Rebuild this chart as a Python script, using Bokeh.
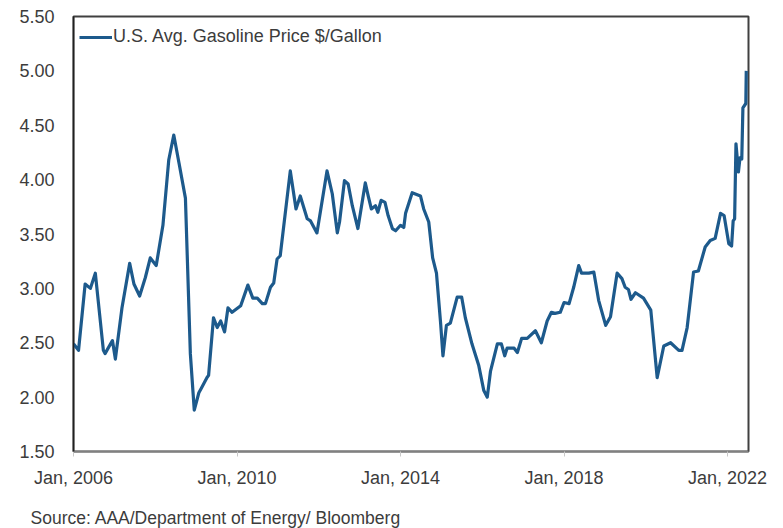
import pandas as pd
from bokeh.plotting import figure
from bokeh.models import (Range1d, FixedTicker, DatetimeTickFormatter, Legend, LegendItem,
                          Title, NumeralTickFormatter, ColumnDataSource)
from bokeh.embed import file_html
from bokeh.resources import INLINE

# ---------------- data ----------------
dates = [
    "2006-01-01", "2006-02-15", "2006-04-15", "2006-06-01", "2006-07-15", "2006-09-25", "2006-10-10",
    "2006-12-15", "2007-01-10", "2007-03-10", "2007-05-18", "2007-06-25", "2007-08-15", "2007-10-05",
    "2007-11-18", "2008-01-10", "2008-03-10", "2008-05-01", "2008-06-15", "2008-08-01", "2008-09-27",
    "2008-11-10", "2008-12-15", "2009-01-25", "2009-02-15", "2009-04-08", "2009-04-22", "2009-06-05",
    "2009-07-08", "2009-08-08", "2009-09-12", "2009-10-12", "2009-11-18", "2010-02-03", "2010-04-08",
    "2010-05-22", "2010-07-01", "2010-08-15", "2010-09-12", "2010-10-27", "2010-11-25", "2010-12-25",
    "2011-01-22", "2011-04-22", "2011-06-12", "2011-07-20", "2011-09-20", "2011-10-20", "2011-12-16",
    "2012-03-15", "2012-05-01", "2012-06-15", "2012-07-05", "2012-08-18", "2012-09-20", "2012-10-27",
    "2012-12-16", "2013-02-20", "2013-03-18", "2013-04-15", "2013-05-22", "2013-06-12", "2013-07-12",
    "2013-08-15", "2013-09-12", "2013-10-20", "2013-11-18", "2014-01-01", "2014-01-30", "2014-02-15",
    "2014-04-15", "2014-06-28", "2014-07-27", "2014-09-10", "2014-10-15", "2014-11-18", "2014-12-25",
    "2015-01-15", "2015-02-15", "2015-03-22", "2015-05-22", "2015-07-01", "2015-08-03", "2015-10-01",
    "2015-12-01", "2016-01-15", "2016-02-15", "2016-03-15", "2016-05-15", "2016-06-20", "2016-07-20",
    "2016-08-10", "2016-10-12", "2016-11-10", "2016-12-18", "2017-02-06", "2017-04-20", "2017-06-12",
    "2017-08-03", "2017-09-10", "2017-10-12", "2017-11-28", "2018-01-01", "2018-02-15", "2018-03-28",
    "2018-05-12", "2018-06-06", "2018-08-10", "2018-09-24", "2018-11-06", "2019-01-08", "2019-02-20",
    "2019-04-20", "2019-06-02", "2019-07-01", "2019-07-30", "2019-08-22", "2019-10-01", "2019-12-12",
    "2020-02-15", "2020-04-12", "2020-06-10", "2020-08-10", "2020-10-22", "2020-11-20", "2021-01-05",
    "2021-03-03", "2021-04-15", "2021-06-15", "2021-07-30", "2021-09-12", "2021-10-30", "2021-12-01",
    "2022-01-12", "2022-02-06", "2022-02-20", "2022-03-05", "2022-03-17", "2022-04-08", "2022-04-22",
    "2022-05-08", "2022-05-18", "2022-06-13", "2022-06-17",
]
prices = [
    2.49, 2.43, 3.04, 3.00, 3.14, 2.43, 2.40,
    2.52, 2.35, 2.82, 3.23, 3.04, 2.93, 3.10,
    3.28, 3.21, 3.58, 4.18, 4.41, 4.15, 3.83,
    2.40, 1.88, 2.04, 2.08, 2.18, 2.20, 2.73,
    2.64, 2.70, 2.60, 2.82, 2.78, 2.84, 3.03,
    2.91, 2.91, 2.86, 2.86, 3.01, 3.05, 3.27,
    3.30, 4.08, 3.73, 3.85, 3.64, 3.62, 3.51,
    4.08, 3.87, 3.51, 3.61, 3.99, 3.96, 3.76,
    3.55, 3.97, 3.85, 3.73, 3.76, 3.70, 3.81,
    3.79, 3.67, 3.55, 3.53, 3.58, 3.56, 3.69,
    3.88, 3.85, 3.73, 3.61, 3.28, 3.14, 2.68,
    2.38, 2.66, 2.68, 2.92, 2.92, 2.73, 2.49,
    2.29, 2.06, 2.00, 2.24, 2.49, 2.49, 2.38,
    2.45, 2.45, 2.41, 2.54, 2.54, 2.61, 2.50,
    2.70, 2.78, 2.77, 2.78, 2.87, 2.86, 3.01,
    3.21, 3.14, 3.14, 3.15, 2.89, 2.66, 2.74,
    3.14, 3.09, 3.01, 2.99, 2.90, 2.96, 2.91,
    2.80, 2.18, 2.47, 2.50, 2.43, 2.43, 2.64,
    3.15, 3.16, 3.38, 3.44, 3.46, 3.69, 3.67,
    3.41, 3.39, 3.62, 3.64, 4.33, 4.07, 4.20,
    4.19, 4.66, 4.70, 5.00,
]
series_name = "U.S. Avg. Gasoline Price $/Gallon"
x_tick_dates = ["2006-01-01", "2010-01-01", "2014-01-01", "2018-01-01", "2022-01-01"]
y_ticks = [1.50, 2.00, 2.50, 3.00, 3.50, 4.00, 4.50, 5.00, 5.50]
source_note = "Source: AAA/Department of Energy/ Bloomberg"

# ---------------- figure ----------------
FONT = "Liberation Sans"
TXT = "#3c3c3c"
LINE = "#1d5a8c"

src = ColumnDataSource(dict(date=pd.to_datetime(dates), price=prices))

p = figure(width=783, height=528, x_axis_type="datetime",
           output_backend="svg", toolbar_location=None,
           x_range=Range1d(pd.Timestamp("2006-01-01"), pd.Timestamp("2022-07-07")),
           y_range=Range1d(1.5, 5.5),
           min_border_left=73, min_border_right=35, min_border_top=16, min_border_bottom=77)
p.background_fill_color = "white"
p.border_fill_color = "white"
p.xgrid.visible = False
p.ygrid.visible = False
p.outline_line_color = "#404040"
p.outline_line_width = 2

r = p.line("date", "price", source=src, line_color=LINE, line_width=3.2, line_join="round")

# y axis
p.yaxis.ticker = FixedTicker(ticks=y_ticks)
p.yaxis.formatter = NumeralTickFormatter(format="0.00")
p.yaxis.axis_line_color = "#202020"
p.yaxis.axis_line_width = 1.5
p.yaxis.major_tick_line_color = None
p.yaxis.minor_tick_line_color = None
p.yaxis.major_tick_out = 0
p.yaxis.major_label_standoff = 19
p.yaxis.major_label_text_font = FONT
p.yaxis.major_label_text_font_size = "18px"
p.yaxis.major_label_text_color = TXT

# x axis
p.xaxis.ticker = FixedTicker(ticks=[pd.Timestamp(d).value // 10**6 for d in x_tick_dates])
fmt = "%b, %Y"
p.xaxis.formatter = DatetimeTickFormatter(years=fmt, months=fmt, days=fmt, hours=fmt,
                                          minutes=fmt, seconds=fmt, milliseconds=fmt,
                                          microseconds=fmt, hourmin=fmt, minsec=fmt)
p.xaxis.axis_line_color = "#808080"
p.xaxis.axis_line_width = 1.5
p.xaxis.major_tick_line_color = "#c8c8c8"
p.xaxis.major_tick_out = 5
p.xaxis.major_tick_in = 0
p.xaxis.minor_tick_line_color = None
p.xaxis.major_label_standoff = 11
p.xaxis.major_label_text_font = FONT
p.xaxis.major_label_text_font_size = "18px"
p.xaxis.major_label_text_color = TXT

# legend
legend = Legend(items=[LegendItem(label=series_name, renderers=[r])],
                location=(6, 404), margin=0, padding=0, spacing=0,
                glyph_width=33, glyph_height=20, label_standoff=1,
                border_line_color=None, background_fill_alpha=0,
                label_text_font=FONT, label_text_font_size="18px", label_text_color=TXT)
p.add_layout(legend)

# spacer between the x axis and the source note
spacer = Title(text=" ", text_font_size="1px", standoff=12)
p.add_layout(spacer, "below")

# source note
note = Title(text=source_note, align="left", vertical_align="bottom", offset=-43, standoff=0,
             text_font=FONT, text_font_size="17.5px", text_font_style="normal",
             text_color=TXT)
p.add_layout(note, "below")

open("out.html", "w").write(file_html(p, INLINE))
